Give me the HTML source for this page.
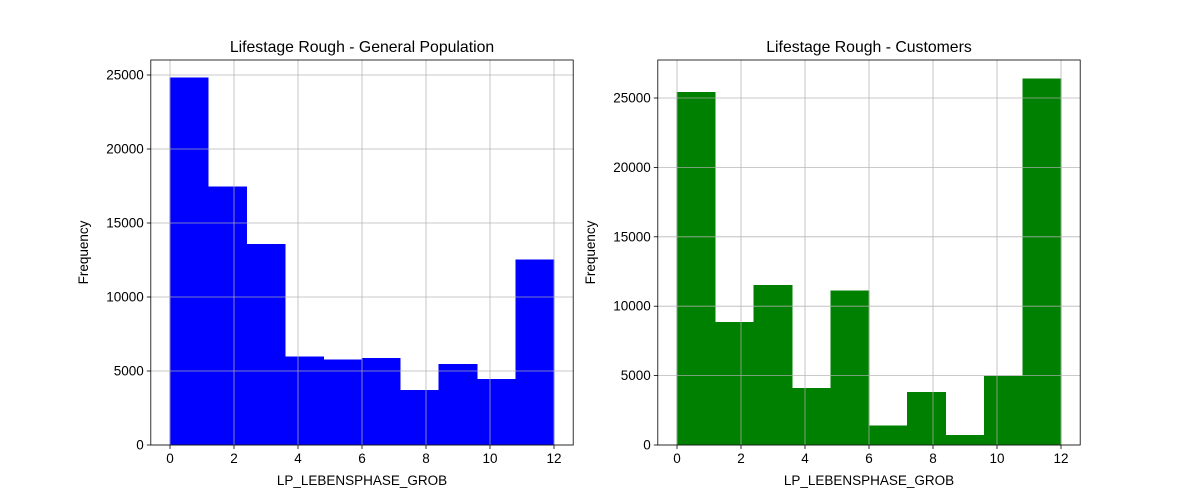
<!DOCTYPE html>
<html><head><meta charset="utf-8"><style>body{margin:0;background:#fff}svg{display:block;font-family:"Liberation Sans","DejaVu Sans",sans-serif}</style></head>
<body>
<svg id="c" width="1200" height="500"></svg>
<script>
const binEdges=[0,1.2,2.4,3.6,4.8,6,7.2,8.4,9.6,10.8,12];
const xTicks=[0,2,4,6,8,10,12];
const popCounts=[24800,17450,13550,5950,5750,5850,3700,5450,4450,12500];
const custCounts=[25400,8850,11500,4100,11100,1400,3800,700,5000,26400];
const popYTicks=[0,5000,10000,15000,20000,25000];
const custYTicks=[0,5000,10000,15000,20000,25000];
const svg=document.getElementById('c');
const NS='http://www.w3.org/2000/svg';
function mk(t,a,p){const e=document.createElementNS(NS,t);for(const k in a)e.setAttribute(k,a[k]);(p||svg).appendChild(e);return e;}
function panel(id,L,R,T,B,ymax,counts,yt,color,title){
  const g=mk('g',{});
  
  
  const xs=v=>L+(v+0.6)/13.2*(R-L);
  const ys=v=>B-v/ymax*(B-T);
  for(let i=0;i<counts.length;i++){
    const r=mk('rect',{x:xs(binEdges[i]),y:ys(counts[i]),width:xs(binEdges[i+1])-xs(binEdges[i]),height:B-ys(counts[i]),fill:color,stroke:color,'stroke-width':0.6,'shape-rendering':'crispEdges'},g);
    
    
  }
  xTicks.forEach(t=>{const x=xs(t);
    mk('line',{x1:x,x2:x,y1:T,y2:B,stroke:'#b0b0b0','stroke-width':0.8,'stroke-opacity':0.9},g);
    mk('line',{x1:x,x2:x,y1:B,y2:B+4,stroke:'#000','stroke-width':0.8},g);
    const tx=mk('text',{x:x,y:B+18,'font-size':13.5,'text-anchor':'middle'},g);tx.textContent=t;
    
    });
  yt.forEach(t=>{const y=ys(t);
    mk('line',{x1:L,x2:R,y1:y,y2:y,stroke:'#b0b0b0','stroke-width':0.8,'stroke-opacity':0.9},g);
    mk('line',{x1:L-4,x2:L,y1:y,y2:y,stroke:'#000','stroke-width':0.8},g);
    const tx=mk('text',{x:L-7,y:y+4.5,'font-size':13.5,'text-anchor':'end'},g);tx.textContent=t;
    
    });
  mk('rect',{x:L,y:T,width:R-L,height:B-T,fill:'none',stroke:'#000','stroke-width':0.8},g);
  const ti=mk('text',{x:(L+R)/2,y:T-8,'font-size':15.8,'text-anchor':'middle'},g);ti.textContent=title;
  
  
  const xl=mk('text',{x:(L+R)/2,y:485,'font-size':13.5,'text-anchor':'middle'},g);xl.textContent='LP_LEBENSPHASE_GROB';
  
  
  const yl=mk('text',{x:0,y:0,'font-size':13.5,'text-anchor':'middle',transform:`translate(${L-63},${(T+B)/2}) rotate(-90)`},g);yl.textContent='Frequency';
  
  
}
panel('general-population-panel',150.8,573.2,60,445,26014,popCounts,popYTicks,'#0000ff','Lifestage Rough - General Population');
panel('customers-panel',657.8,1080.2,60,445,27738,custCounts,custYTicks,'#008000','Lifestage Rough - Customers');
</script>
</body></html>
